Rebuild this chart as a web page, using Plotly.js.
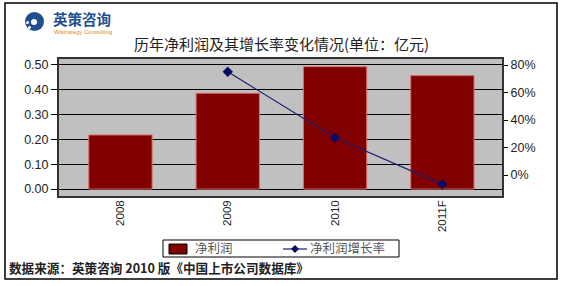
<!DOCTYPE html>
<html><head><meta charset="utf-8">
<script src="https://cdn.plot.ly/plotly-3.0.1.min.js"></script>
<style>html,body{margin:0;padding:0;background:#fff;}#c{width:562px;height:286px;}</style>
</head><body><div id="c"></div>
<script>
const categories = ['2008', '2009', '2010', '2011F'];
const netProfit = [0.218, 0.386, 0.493, 0.457];
const growthCats = ['2009', '2010', '2011F'];
const growthRate = [75.1, 27.1, -6.8];
const leftTicks = [0, 0.1, 0.2, 0.3, 0.4, 0.5];
const rightTicks = [0, 20, 40, 60, 80];
const rightTickText = ['0%', '20%', '40%', '60%', '80%'];
const seriesNames = ['净利润', '净利润增长率'];

const L = 58, R = 503, T = 58, B = 197;
const px = x => (x - L) / (R - L);
const py = y => (B - y) / (B - T);
const CJK = '"Noto Sans CJK SC", "Noto Sans", sans-serif';
const BAR = '#800000', LINE = '#1c1c6e', MARK = '#0a0a60';

const traces = [
  {type: 'bar', x: categories, y: netProfit, name: seriesNames[0], width: 0.59,
   marker: {color: BAR, line: {color: '#d87070', width: 1}}},
  {type: 'scatter', mode: 'lines+markers', x: growthCats, y: growthRate, yaxis: 'y2', name: seriesNames[1],
   line: {color: LINE, width: 1.2}, marker: {symbol: 'diamond', size: 8, color: MARK}}
];

// diamond for legend sample
const dx = 295, dy = 249, r = 4;
const diamondPath = `M ${px(dx)} ${py(dy - r)} L ${px(dx + r)} ${py(dy)} L ${px(dx)} ${py(dy + r)} L ${px(dx - r)} ${py(dy)} Z`;

const layout = {
  width: 562, height: 286,
  margin: {l: L, r: 562 - R, t: T, b: 286 - B, pad: 0},
  paper_bgcolor: '#ffffff', plot_bgcolor: '#c0c0c0',
  showlegend: false,
  xaxis: {type: 'category', range: [-0.582, 3.565], ticks: '', showgrid: false, zeroline: false,
    tickangle: -90, tickfont: {family: 'Liberation Sans, Arial', size: 11.5, color: '#222'}, showline: false},
  yaxis: {range: [-0.032, 0.528], tickvals: leftTicks, tickformat: '.2f', ticks: 'outside', ticklen: 6,
    tickcolor: '#000', showgrid: true, gridcolor: '#000', gridwidth: 1, zeroline: false, showline: false,
    tickfont: {family: 'Liberation Sans, Arial', size: 12.5, color: '#222'}},
  yaxis2: {overlaying: 'y', side: 'right', range: [-16, 85.1], tickmode: 'array', tickvals: rightTicks, ticktext: rightTickText,
    ticks: 'outside', ticklen: 4, tickcolor: '#000', showgrid: false, zeroline: false, showline: false,
    tickfont: {family: 'Liberation Sans, Arial', size: 12.5, color: '#222'}},
  shapes: [
    {type: 'rect', xref: 'paper', yref: 'paper', x0: 0, x1: 1, y0: 0, y1: 1,
     line: {color: '#333', width: 2}},
    {type: 'rect', xref: 'paper', yref: 'paper', x0: px(5), x1: px(557), y0: py(3), y1: py(279),
     line: {color: '#000', width: 1.5}},
    // legend box
    {type: 'rect', xref: 'paper', yref: 'paper', x0: px(163), x1: px(399), y0: py(240), y1: py(257),
     line: {color: '#000', width: 1}, fillcolor: '#fff'},
    {type: 'rect', xref: 'paper', yref: 'paper', x0: px(169), x1: px(187), y0: py(244), y1: py(254),
     line: {color: '#000', width: 1}, fillcolor: BAR},
    {type: 'line', xref: 'paper', yref: 'paper', x0: px(283), x1: px(307), y0: py(249), y1: py(249),
     line: {color: LINE, width: 1.2}},
    {type: 'path', xref: 'paper', yref: 'paper', path: diamondPath, fillcolor: MARK, line: {width: 0}},
    // logo
    {type: 'circle', xref: 'paper', yref: 'paper', x0: px(25), x1: px(44), y0: py(31), y1: py(12),
     fillcolor: '#1f4f8f', line: {width: 0}},
    {type: 'circle', xref: 'paper', yref: 'paper', x0: px(31), x1: px(37), y0: py(25), y1: py(19),
     fillcolor: '#ffffff', line: {width: 0}},
    {type: 'circle', xref: 'paper', yref: 'paper', x0: px(26), x1: px(29), y0: py(24), y1: py(21),
     fillcolor: '#ffffff', line: {width: 0}},
    {type: 'circle', xref: 'paper', yref: 'paper', x0: px(28), x1: px(31), y0: py(29), y1: py(26),
     fillcolor: '#ffffff', line: {width: 0}}
  ],
  annotations: [
    {xref: 'paper', yref: 'paper', x: px(281), y: py(43), xanchor: 'center', yanchor: 'middle', showarrow: false,
     text: '历年净利润及其增长率变化情况(单位：亿元)', font: {family: CJK, size: 15, color: '#222'}},
    {xref: 'paper', yref: 'paper', x: px(8), y: py(267), xanchor: 'left', yanchor: 'middle', showarrow: false, borderpad: 0,
     text: '<b>数据来源：英策咨询 2010 版《中国上市公司数据库》</b>', font: {family: CJK, size: 12.6, color: '#222'}},
    {xref: 'paper', yref: 'paper', x: px(194), y: py(247.5), xanchor: 'left', yanchor: 'middle', showarrow: false, borderpad: 0,
     text: seriesNames[0], font: {family: CJK, size: 12.5, color: '#555'}},
    {xref: 'paper', yref: 'paper', x: px(309), y: py(247.5), xanchor: 'left', yanchor: 'middle', showarrow: false, borderpad: 0,
     text: seriesNames[1], font: {family: CJK, size: 12.5, color: '#555'}},
    {xref: 'paper', yref: 'paper', x: px(51), y: py(18), xanchor: 'left', yanchor: 'middle', showarrow: false,
     text: '<b>英策咨询</b>', font: {family: CJK, size: 14.5, color: '#1f4f91'}},
    {xref: 'paper', yref: 'paper', x: px(52), y: py(32), xanchor: 'left', yanchor: 'middle', showarrow: false,
     text: 'Wistrategy Consulting', font: {family: 'Liberation Sans, Arial', size: 6, color: '#e08a20'}}
  ]
};

Plotly.newPlot('c', traces, layout, {staticPlot: true, displayModeBar: false});
</script></body></html>
